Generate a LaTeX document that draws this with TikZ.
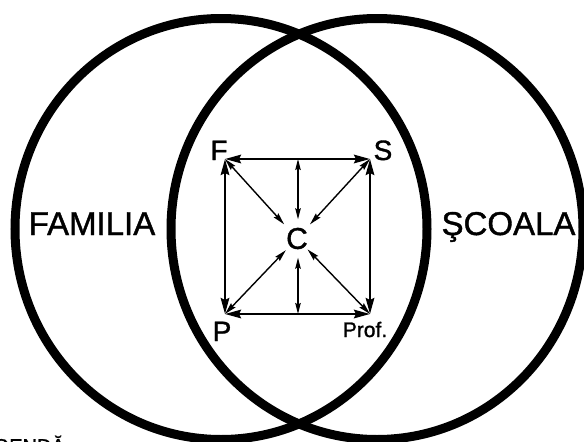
\documentclass[tikz,border=0pt]{standalone}
\usepackage{fontspec}
\setmainfont{Liberation Sans}
\newfontfamily\heavyfont{Liberation Sans}[FakeBold=1.2]
\usetikzlibrary{arrows.meta}
\begin{document}
\begin{tikzpicture}[x=1pt,y=-1pt,
  venn/.style={line width=9pt},
  bigtxt/.style={font=\heavyfont\fontsize{33}{33}\selectfont, inner sep=0pt, anchor=base},
  lbl/.style={font=\heavyfont\fontsize{28}{28}\selectfont, inner sep=0pt, anchor=base},
  edgearrow/.style={line width=2.5pt, {Stealth[length=16pt,width=8.5pt,inset=2pt]}-{Stealth[length=16pt,width=8.5pt,inset=2pt]}},
  spoke/.style={line width=1.4pt, {Stealth[length=12pt,width=6pt,inset=1.5pt]}-{Stealth[length=12pt,width=6pt,inset=1.5pt]}},
  stem/.style={line width=1.3pt, {Stealth[length=11pt,width=5.5pt,inset=1.5pt]}-{Stealth[length=11pt,width=5.5pt,inset=1.5pt]}},
]
\useasboundingbox (0,0) rectangle (584,442);
% Venn ellipses
\draw[venn] (221,229) ellipse [x radius=206pt, y radius=210.5pt];
\draw[venn] (377,229) ellipse [x radius=206pt, y radius=210.5pt];
% big labels
\node[bigtxt] (fam) at (92,235) {FAMILIA};
\node[bigtxt] (sco) at (508.5,235) {ŞCOALA};
% corner coordinates
\coordinate (f) at (225,159);
\coordinate (s) at (370,159);
\coordinate (p) at (225,314);
\coordinate (r) at (370,314);
\coordinate (tm) at (298,159);
\coordinate (bm) at (298,314);
% labels
\node[lbl] (F) at (219,160) {F};
\node[lbl] (S) at (383,160) {S};
\node[lbl] (P) at (222,341) {P};
\node[font=\heavyfont\fontsize{21}{21}\selectfont, inner sep=0pt, anchor=base] (Prof) at (365,337) {Prof.};
\node[circle, minimum size=38pt, inner sep=0pt, font=\heavyfont\fontsize{30}{30}\selectfont] (C) at (297,238.5) {C};
% square edges
\draw[edgearrow] (f) -- (s);
\draw[edgearrow] (p) -- (r);
\draw[edgearrow] (f) -- (p);
\draw[edgearrow] (s) -- (r);
% spokes
\draw[spoke] (f) -- (C);
\draw[spoke] (s) -- (C);
\draw[spoke, shorten >=-3pt] (p) -- (C);
\draw[spoke, shorten >=-4pt] (r) -- (C);
\draw[stem] (tm) -- (tm |- C.north);
\draw[stem] (bm) -- (bm |- C.south);
% partially visible caption at bottom edge (cut off as in the reference)
\node[font=\heavyfont\fontsize{20}{20}\selectfont, inner sep=0pt, anchor=base east] (leg) at (65,453) {LEGENDĂ};
\end{tikzpicture}
\end{document}
